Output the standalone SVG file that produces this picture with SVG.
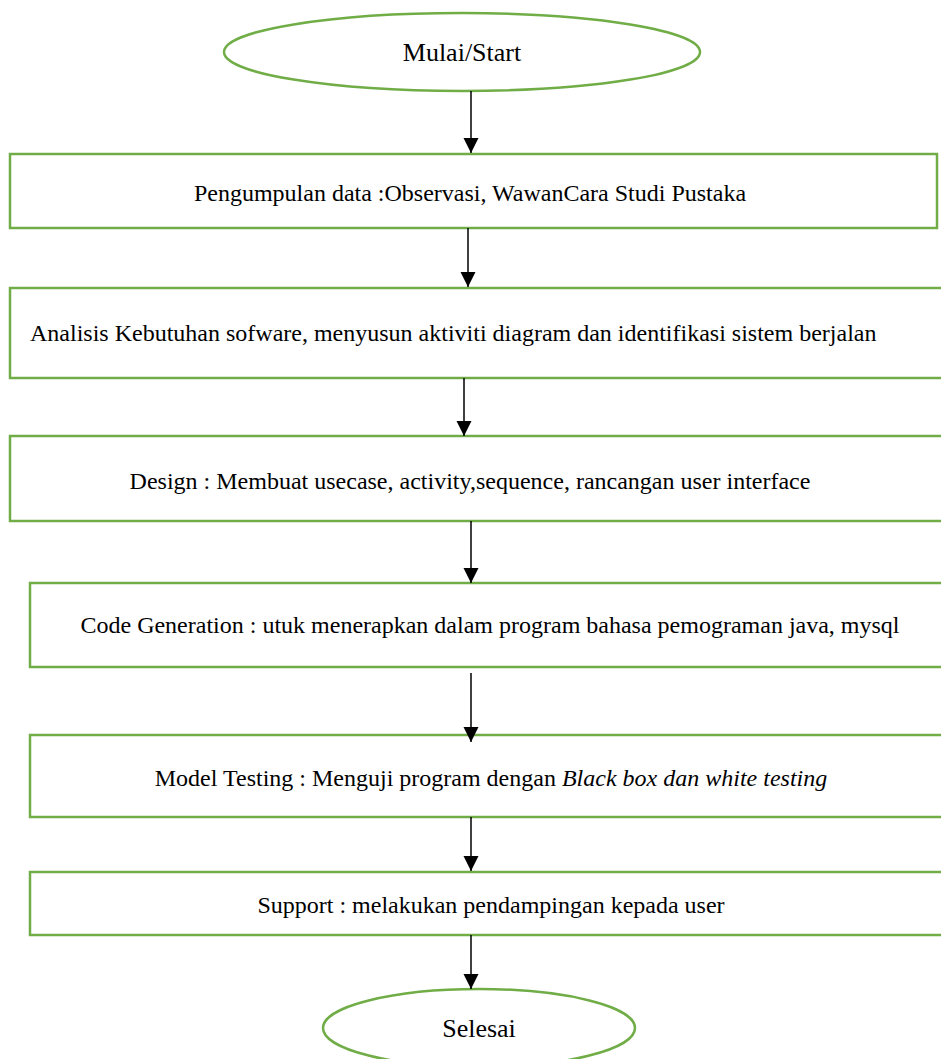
<svg xmlns="http://www.w3.org/2000/svg" width="941" height="1059" viewBox="0 0 941 1059">
  <style>
    .shape { fill: #ffffff; stroke: #70AD47; stroke-width: 2.5; }
    .label { font-family: "Liberation Serif", "Times New Roman", serif; font-size: 24px; fill: #000000; }
    .big { font-size: 26px; }
    .conn { stroke: #000000; stroke-width: 1.5; fill: none; marker-end: url(#arrow); }
  </style>
  <defs>
    <marker id="arrow" markerUnits="userSpaceOnUse" markerWidth="16" markerHeight="16" viewBox="0 0 16 16" refX="15" refY="7.5" orient="auto">
      <path d="M0,0 L15,7.5 L0,15 z" fill="#000000"/>
    </marker>
  </defs>
  <rect width="941" height="1059" fill="#ffffff"/>

  <g id="start">
    <ellipse class="shape" cx="462" cy="52" rx="238" ry="39"/>
    <text class="label big" x="462" y="61" text-anchor="middle">Mulai/Start</text>
  </g>

  <g id="pengumpulan">
    <rect class="shape" x="10" y="154" width="927" height="74"/>
    <text class="label" x="470" y="201" text-anchor="middle">Pengumpulan data :Observasi, WawanCara Studi Pustaka</text>
  </g>

  <g id="analisis">
    <rect class="shape" x="10" y="288" width="945" height="90"/>
    <text class="label" x="30" y="341">Analisis Kebutuhan sofware, menyusun aktiviti diagram dan identifikasi sistem berjalan</text>
  </g>

  <g id="design">
    <rect class="shape" x="10" y="436" width="945" height="85"/>
    <text class="label" x="470" y="489" text-anchor="middle">Design : Membuat usecase, activity,sequence, rancangan user interface</text>
  </g>

  <g id="code">
    <rect class="shape" x="30" y="583" width="925" height="84"/>
    <text class="label" x="490" y="633" text-anchor="middle">Code Generation : utuk menerapkan dalam program bahasa pemograman java, mysql</text>
  </g>

  <g id="testing">
    <rect class="shape" x="30" y="735" width="925" height="82"/>
    <text class="label" x="491" y="786" text-anchor="middle">Model Testing : Menguji program dengan <tspan font-style="italic">Black box dan white testing</tspan></text>
  </g>

  <g id="support">
    <rect class="shape" x="30" y="872" width="925" height="63"/>
    <text class="label" x="491" y="913" text-anchor="middle">Support : melakukan pendampingan kepada user</text>
  </g>

  <g id="end">
    <ellipse class="shape" cx="479" cy="1028" rx="156" ry="39"/>
    <text class="label big" x="479" y="1037" text-anchor="middle">Selesai</text>
  </g>

  <g id="connectors">
    <line class="conn" x1="471" y1="91" x2="471" y2="153"/>
    <line class="conn" x1="468" y1="228" x2="468" y2="287"/>
    <line class="conn" x1="464" y1="378" x2="464" y2="436"/>
    <line class="conn" x1="471" y1="521" x2="471" y2="583"/>
    <line class="conn" x1="471" y1="673" x2="471" y2="742"/>
    <line class="conn" x1="471" y1="817" x2="471" y2="871"/>
    <line class="conn" x1="471" y1="935" x2="471" y2="989"/>
  </g>
</svg>
